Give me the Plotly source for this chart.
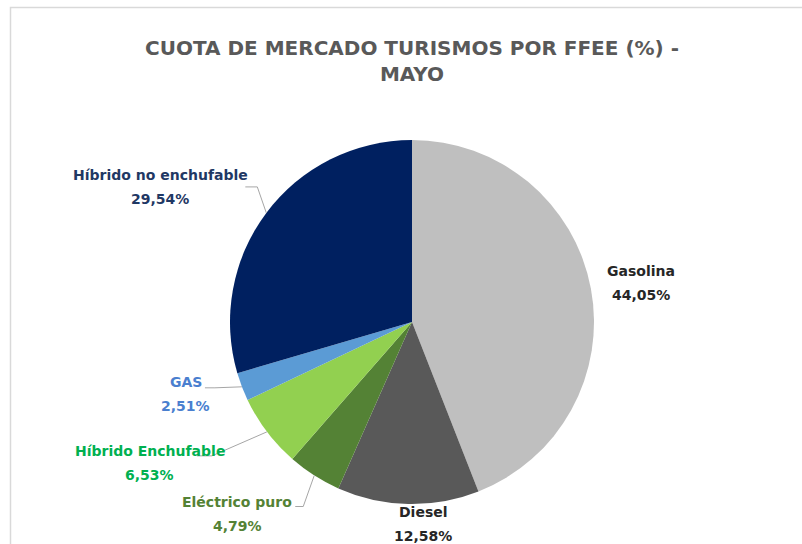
import math
import plotly.graph_objects as go

# ---- data ----
categories = ["Gasolina", "Diesel", "Eléctrico puro", "Híbrido Enchufable", "GAS", "Híbrido no enchufable"]
shares = [44.05, 12.58, 4.79, 6.53, 2.51, 29.54]
title_text = "CUOTA DE MERCADO TURISMOS POR FFEE (%) -<br>MAYO"

# ---- styles ----
slice_colors = ["#BFBFBF", "#595959", "#548235", "#92D050", "#5B9BD5", "#002060"]
label_colors = ["#262626", "#262626", "#548235", "#00B050", "#4A7FCF", "#1F3864"]
FONT = "'DejaVu Sans', sans-serif"

W, H = 802, 544
CX, CY, R = 412, 322, 182  # pie centre / radius in px
LINE_GAP = 12  # half distance between the two label lines (px)

# label offsets (px) from slice mid-edge point, and leader line elbow/end offsets
label_offsets = {
    "Gasolina": (50, -5, None),
    "Diesel": (15, 20, None),
    "Eléctrico puro": (-77, 38, [(-11, 31), (-19, 31)]),
    "Híbrido Enchufable": (-117, 31, [(-55, 24), (-70, 24)]),
    "GAS": (-56, 7, [(-27, 1), (-37, 1)]),
    "Híbrido no enchufable": (-106, -26, [(-9, -26), (-21, -26)]),
}

def px(x):
    return x / W

def py(y):
    return 1 - y / H

fig = go.Figure(go.Pie(
    labels=categories,
    values=shares,
    sort=False,
    direction="clockwise",
    rotation=0,
    marker=dict(colors=slice_colors, line=dict(width=0)),
    textinfo="none",
    hoverinfo="label+percent",
    showlegend=False,
    domain=dict(x=[px(CX - R), px(CX + R)], y=[py(CY + R), py(CY - R)]),
))

total = sum(shares)
cum = 0.0
annotations = []
shapes = []
for cat, val, col in zip(categories, shares, label_colors):
    mid = (cum + val / 2) / total * 2 * math.pi
    cum += val
    ex = CX + R * math.sin(mid)
    ey = CY - R * math.cos(mid)
    dx, dy, leader = label_offsets[cat]
    lx, ly = ex + dx, ey + dy
    pct = f"{val:.2f}%".replace(".", ",")
    for line_txt, yy in ((cat, ly - LINE_GAP), (pct, ly + LINE_GAP)):
        annotations.append(dict(
            x=px(lx), y=py(yy), xref="paper", yref="paper",
            text=f"<b>{line_txt}</b>", showarrow=False, align="center",
            font=dict(family=FONT, size=14, color=col),
            xanchor="center", yanchor="middle",
        ))
    if leader:
        pts = [(ex, ey)] + [(ex + a, ey + b) for a, b in leader]
        path = "M " + " L ".join(f"{px(x)},{py(y)}" for x, y in pts)
        shapes.append(dict(type="path", path=path, xref="paper", yref="paper",
                           line=dict(color="#A6A6A6", width=1)))

# chart area border
shapes.append(dict(type="rect", xref="paper", yref="paper",
                   x0=px(10.5), y0=py(560), x1=px(820), y1=py(7.5),
                   line=dict(color="#D9D9D9", width=1.5)))

fig.update_layout(
    width=W, height=H,
    margin=dict(l=0, r=0, t=0, b=0),
    paper_bgcolor="white", plot_bgcolor="white",
    title=dict(text=f"<b>{title_text}</b>", x=px(412), xanchor="center",
               y=py(55), yanchor="middle",
               font=dict(family=FONT, size=20, color="#595959")),
    annotations=annotations,
    shapes=shapes,
)

fig.write_html("out.html", config={"displayModeBar": False},
               post_script="document.body.style.margin='0';")
